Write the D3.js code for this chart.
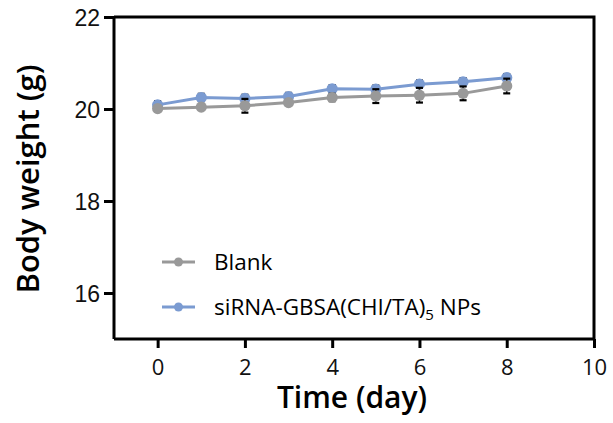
<!DOCTYPE html>
<html>
<head>
<meta charset="utf-8">
<script src="https://cdn.jsdelivr.net/npm/d3@7"></script>
<style>
  html, body { margin: 0; padding: 0; background: #fff; }
  svg { display: block; }
</style>
</head>
<body>
<div id="chart"></div>
<script>
// ---- data ----
const days = [0, 1, 2, 3, 4, 5, 6, 7, 8];
const blankMean = [20.01, 20.04, 20.07, 20.14, 20.25, 20.28, 20.30, 20.34, 20.50];
const blankErr  = [0.05, 0.05, 0.15, 0.06, 0.08, 0.15, 0.16, 0.15, 0.16];
const npMean    = [20.09, 20.25, 20.23, 20.27, 20.44, 20.43, 20.54, 20.59, 20.68];
const npErr     = [0.08, 0.08, 0.08, 0.08, 0.08, 0.08, 0.08, 0.08, 0.08];
const xTicks = [0, 2, 4, 6, 8, 10];
const yTicks = [16, 18, 20, 22];
const seriesNames = ["Blank", "siRNA-GBSA(CHI/TA)", "5", " NPs"];

const W = 613, H = 423;
const svg = d3.select("#chart").append("svg").attr("width", W).attr("height", H);

const x = d3.scaleLinear().domain([-1, 10]).range([114, 594]);
const y = d3.scaleLinear().domain([15, 22]).range([339, 17]);

const GRAY = "#999999", BLUE = "#7b9bd1";
const sansHum = "'Open Sans', 'Noto Sans', sans-serif";

// frame (top & right)
svg.append("path")
  .attr("d", `M${x(-1)},${y(22)}H${x(10)}V${y(15)}`)
  .attr("fill", "none").attr("stroke", "#000").attr("stroke-width", 3);

// y axis
const yAxis = svg.append("g").attr("transform", `translate(${x(-1)},0)`)
  .call(d3.axisLeft(y).tickValues(yTicks).tickSize(10).tickFormat(d3.format("d")));
yAxis.select(".domain").attr("stroke-width", 3).attr("d", `M0,${y(22)}V${y(15)}`);
yAxis.selectAll(".tick line").attr("stroke-width", 3);
yAxis.selectAll(".tick text")
  .attr("font-family", "'Liberation Sans', Arial, sans-serif")
  .attr("font-size", 23).attr("fill", "#111").attr("x", -14).attr("dy", "0.36em");

// x axis
const xAxis = svg.append("g").attr("transform", `translate(0,${y(15)})`)
  .call(d3.axisBottom(x).tickValues(xTicks).tickSize(9).tickFormat(d3.format("d")));
xAxis.select(".domain").attr("stroke-width", 3).attr("d", `M${x(-1)},0H${x(10)}`);
xAxis.selectAll(".tick line").attr("stroke-width", 3);
xAxis.selectAll(".tick text")
  .attr("font-family", sansHum)
  .attr("font-size", 22).attr("fill", "#111").attr("y", 20).attr("dy", "0.71em");

// axis titles
svg.append("text")
  .attr("transform", `translate(39,${(y(15) + y(22)) / 2 + 1}) rotate(-90)`)
  .attr("text-anchor", "middle")
  .attr("font-family", sansHum).attr("font-weight", 600).attr("font-size", 31)
  .attr("fill", "#000")
  .text("Body weight (g)");

svg.append("text")
  .attr("x", (x(-1) + x(10)) / 2 - 2).attr("y", 408)
  .attr("text-anchor", "middle")
  .attr("font-family", sansHum).attr("font-weight", 600).attr("font-size", 30)
  .attr("fill", "#000")
  .text("Time (day)");

// series drawing
function drawSeries(means, errs, color) {
  const pts = days.map((d, i) => ({ d, m: means[i], e: errs[i] }));
  const g = svg.append("g");
  const line = d3.line().x(p => x(p.d)).y(p => y(p.m));
  g.append("path").datum(pts).attr("d", line)
    .attr("fill", "none").attr("stroke", color).attr("stroke-width", 3);
  const eb = g.selectAll(".eb").data(pts).enter().append("g");
  eb.append("line")
    .attr("x1", p => x(p.d)).attr("x2", p => x(p.d))
    .attr("y1", p => y(p.m - p.e)).attr("y2", p => y(p.m + p.e))
    .attr("stroke", "#000").attr("stroke-width", 1.5);
  [1, -1].forEach(s => {
    eb.append("line")
      .attr("x1", p => x(p.d) - 3.5).attr("x2", p => x(p.d) + 3.5)
      .attr("y1", p => y(p.m + s * p.e)).attr("y2", p => y(p.m + s * p.e))
      .attr("stroke", "#000").attr("stroke-width", 2.2);
  });
  g.selectAll("circle").data(pts).enter().append("circle")
    .attr("cx", p => x(p.d)).attr("cy", p => y(p.m)).attr("r", 5.6)
    .attr("fill", color);
}
drawSeries(npMean, npErr, BLUE);
drawSeries(blankMean, blankErr, GRAY);

// legend
const legend = [
  { color: GRAY, y: 262 },
  { color: BLUE, y: 307 }
];
legend.forEach(l => {
  svg.append("line").attr("x1", 162).attr("x2", 195).attr("y1", l.y).attr("y2", l.y)
    .attr("stroke", l.color).attr("stroke-width", 3);
  svg.append("circle").attr("cx", 178.5).attr("cy", l.y).attr("r", 4.5).attr("fill", l.color);
});
svg.append("text").attr("x", 214).attr("y", 270)
  .attr("font-family", sansHum).attr("font-size", 22.5).attr("fill", "#000")
  .text(seriesNames[0]);
const t2 = svg.append("text").attr("x", 214).attr("y", 315)
  .attr("font-family", sansHum).attr("font-size", 22.5).attr("fill", "#000");
t2.append("tspan").text(seriesNames[1]);
t2.append("tspan").attr("dy", 5).attr("font-size", 15).text(seriesNames[2]);
t2.append("tspan").attr("dy", -5).text(seriesNames[3]);
</script>
</body>
</html>
